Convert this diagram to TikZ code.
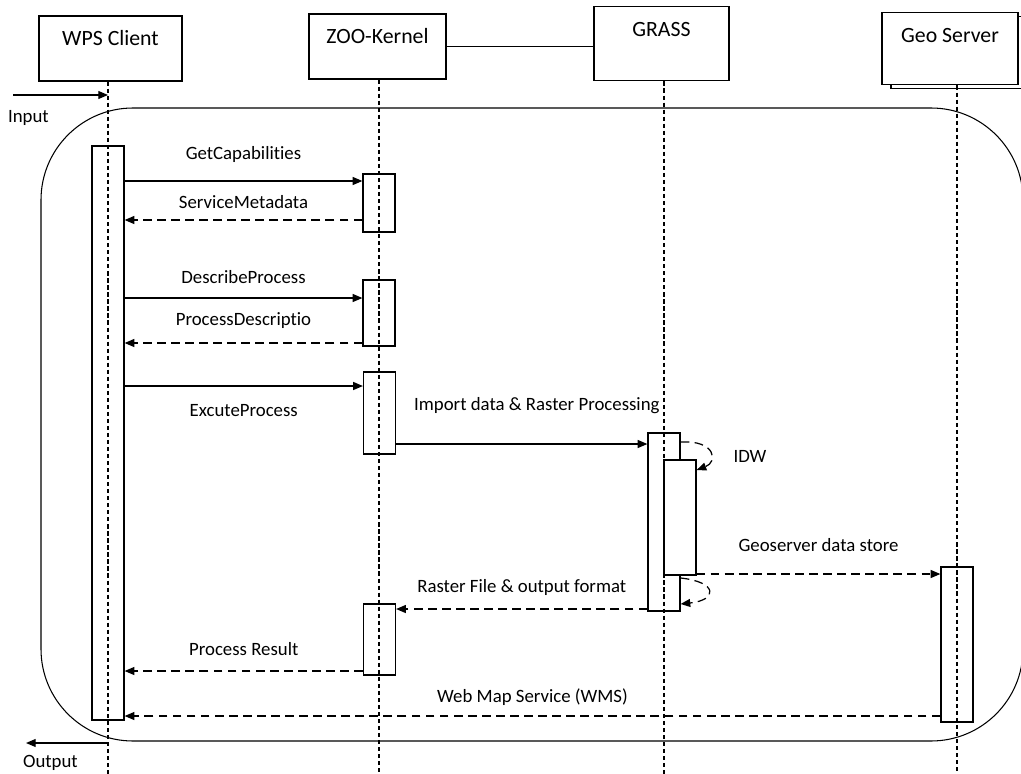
\documentclass[tikz,border=0pt]{standalone}
\usepackage{fontspec}
\setmainfont{Carlito}[Ligatures=NoCommon]
\usetikzlibrary{arrows.meta,positioning,shadows}
\newcommand{\boxfont}{\fontsize{12.4}{14}\selectfont}
\newcommand{\msgfont}{\fontsize{10.7}{12}\selectfont}
\tikzset{
  headbox/.style={draw,line width=0.7pt,fill=white,inner sep=0pt,text height=17pt,font=\boxfont},
  actbar/.style={draw,line width=0.7pt,inner sep=0pt,minimum width=0.64cm},
  lifeline/.style={line width=0.6pt,dash pattern=on 2.4pt off 1.6pt},
  call/.style={->,line width=0.7pt},
  reply/.style={->,line width=0.7pt,dash pattern=on 5pt off 3pt},
  msglbl/.style={font=\msgfont,inner sep=1pt,text height=8pt,text depth=2.5pt},
}

\begin{document}
\begin{tikzpicture}[x=0.02cm,y=-0.02cm,>={Triangle[length=5.5pt,width=4.5pt]}]
\useasboundingbox (0,0) rectangle (1021,774);
% participants
\node[headbox,minimum width=2.86cm,text depth=19.9pt] (wps) at (110.5,48.5) {WPS Client};
\node[headbox,minimum width=2.74cm,text depth=19.9pt] (zoo) at (377.5,46.5) {ZOO-Kernel};
\node[headbox,minimum width=2.7cm,text depth=25.5pt] (grass) at (661.5,43.5) {GRASS};
\node[headbox,minimum width=2.72cm,text depth=24.4pt,
  copy shadow={shadow xshift=0.18cm,shadow yshift=-0.08cm,draw=black,fill=white,line width=0.7pt}] (geo) at (950,48.5) {Geo Server};
\draw[line width=0.7pt] (zoo.east) -- (zoo.east -| grass.west);

% activation bars
\node[actbar,minimum height=11.48cm] (wpsact) at (108,433) {};
\node[actbar,minimum height=1.16cm] (zooa) at (379,203) {};
\node[actbar,minimum height=1.32cm] (zoob) at (379,313) {};
\node[actbar,minimum height=1.64cm] (zooc) at (379.5,413) {};
\node[actbar,minimum height=1.42cm] (zood) at (379.5,639.5) {};
\node[actbar,minimum height=3.56cm] (grassact) at (664,522) {};
\node[actbar,minimum height=3.1cm] (geoact) at (957,644.5) {};

% lifelines
\foreach \act/\hd in {wpsact/wps,zooa/zoo,grassact/grass,geoact/geo}
  \draw[lifeline] (\act |- \hd.south) -- (\act |- 0,774);
\node[actbar,fill=white,minimum height=2.3cm] (grassin) at (680,517.5) {};

% loop frame
\draw[line width=0.6pt,rounded corners=1.84cm] (41,108) rectangle (1023,741);

% input / output
\coordinate (inputstart) at (13,95);
\draw[call] (inputstart) -- (wpsact |- inputstart);
\node[msglbl,anchor=west] (inputlbl) at (6,118) {Input};
\coordinate (outputend) at (26,743);
\draw[call] (wpsact |- outputend) -- (outputend);
\node[msglbl,anchor=west] (outputlbl) at (21,763) {Output};

% messages
\draw[call] (wpsact.east |- 0,181) -- node[msglbl,above=8.3pt] (lgetcap) {GetCapabilities} (zooa.west |- 0,181);
\draw[reply] (zooa.west |- 0,220) -- node[msglbl,above=2.6pt] (lsmeta) {ServiceMetadata} (wpsact.east |- 0,220);
\draw[call] (wpsact.east |- 0,298) -- node[msglbl,above=4.3pt] (ldescr) {DescribeProcess} (zoob.west |- 0,298);
\draw[reply] (zoob.west |- 0,343) -- node[msglbl,above=6pt] (lpdesc) {ProcessDescriptio} (wpsact.east |- 0,343);
\draw[call] (wpsact.east |- 0,386) -- node[msglbl,below=8.1pt] (lexec) {ExcuteProcess} (zooc.west |- 0,386);
\draw[call] (zooc.east |- 0,444) -- node[msglbl,pos=.56,above=15pt] (limport) {Import data \& Raster Processing} (grassact.west |- 0,444);
\draw[reply] (grassact.east |- 0,442) .. controls (716,440) and (718,462) .. (grassin.east |- 0,470);
\node[msglbl] (lidw) at (750,458) {IDW};
\draw[reply] (grassin.east |- 0,574) -- node[msglbl,above=8.9pt] (lstore) {Geoserver data store} (geoact.west |- 0,574);
\draw[reply] (grassact.east |- 0,578) .. controls (718,582) and (718,600) .. (grassact.east |- 0,604);
\draw[reply] (grassact.west |- 0,609) -- node[msglbl,above=5.5pt] (lraster) {Raster File \& output format} (zood.east |- 0,609);
\draw[reply] (zood.west |- 0,671) -- node[msglbl,above=4.9pt] (lresult) {Process Result} (wpsact.east |- 0,671);
\draw[reply] (geoact.west |- 0,716) -- node[msglbl,above=3.8pt] (lwms) {Web Map Service (WMS)} (wpsact.east |- 0,716);
\end{tikzpicture}
\end{document}
